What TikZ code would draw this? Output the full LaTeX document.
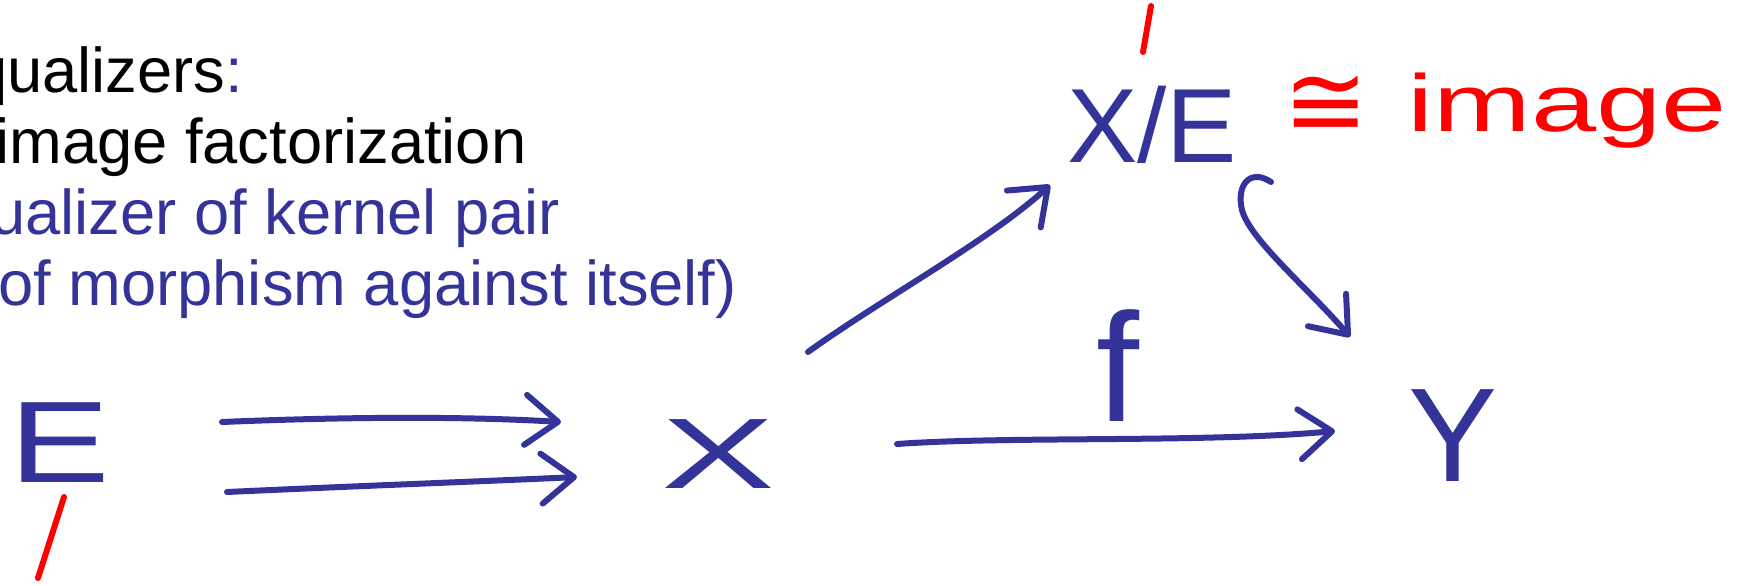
\documentclass[tikz,border=0pt]{standalone}
\usepackage{fontspec}
\setmainfont{Liberation Sans}
\newfontfamily\isofont{DejaVu Sans}
\usepackage{graphicx}
\usepackage{tikz}
\usetikzlibrary{arrows.meta, positioning}
\usepackage{xcolor}
\definecolor{inkblue}{RGB}{51,51,153}
\definecolor{inkred}{RGB}{255,0,0}

\tikzset{
    ink/.style={inkblue, line width=1.2mm, line cap=round, line join=round},
    inkarrow/.style={ink, -{Straight Barb[length=6.5mm, width=10mm, round]}},
    redtick/.style={inkred, line width=1.2mm, line cap=round},
    slide/.style={anchor=base west, inner sep=0pt, font=\fontsize{36}{43}\selectfont},
    hand/.style={inkblue, inner sep=0pt}
}

\begin{document}
\begin{tikzpicture}[x=0.2mm, y=-0.2mm]
        % Cadre
        \useasboundingbox (0,0) rectangle (1746,585);
        \clip (0,0) rectangle (1746,585);

        % --- Texte de la diapositive (coupé à gauche) ---
        \node[slide] (ln1) at (-28,92) {qualizers\textcolor{inkblue}{:}};
        \node[slide] (ln2) at (-5,163) {image factorization};
        \node[slide, inkblue] (ln3) at (-10,234) {ualizer of kernel pair};
        \node[slide, inkblue] (ln4) at (-23,305) {(of morphism against itself)};

        % --- Objets écrits à la main ---
        \node[hand, font=\fontsize{66}{66}\selectfont] (E) at (60,443) {\scalebox{1.3}[1]{E}};
        \node[hand, font=\fontsize{57}{57}\selectfont] (X) at (718,454) {\scalebox{1.7}[1]{X}};
        \node[hand, font=\fontsize{60}{60}\selectfont] (XE) at (1152,125) {X/E};
        \node[hand, font=\fontsize{76}{76}\selectfont] (Y) at (1453,436) {Y};

        % --- Annotation rouge ---
        \node[inkred, inner sep=0pt, font=\isofont\fontsize{58}{58}\selectfont] (iso) at (1326,106) {≅};
        \node[inkred, inner sep=0pt, anchor=base west, font=\fontsize{46}{46}\selectfont] (img) at (1407,131) {\scalebox{1.45}[1]{image}};
        \draw[redtick] ([shift={(4,54)}]E.center) -- ++(-26,81);
        \draw[redtick] ([shift={(-1,-119)}]XE.center) -- ++(-8,46);

        % --- Paire parallèle E => X ---
        \draw[inkarrow] ([shift={(162,-21)}]E.center) .. controls +(120,-5) and +(-100,-6) .. ([shift={(-157,-32)}]X.center);
        \draw[inkarrow] ([shift={(167,49)}]E.center) .. controls +(130,-6) and +(-110,5) .. ([shift={(-141,23)}]X.center);

        % --- Factorisation par X/E ---
        \draw[inkarrow] ([shift={(90,-102)}]X.center) .. controls +(72,-52) and +(-60,55) .. ([shift={(-102,60)}]XE.center);
        \draw[inkarrow] ([shift={(119,57)}]XE.center) .. controls +(-21,-14) and +(-6,-25) .. ([shift={(90,85)}]XE.center)
            .. controls +(8,30) and +(-40,-47) .. ([shift={(-103,-99)}]Y.center);

        % --- Morphisme f ---
        \draw[inkarrow] ([shift={(179,-10)}]X.center) .. controls +(110,-8) and +(-130,12) .. ([shift={(-118,-5)}]Y.center)
            node[hand, pos=0.52, above=2.8mm, font=\fontsize{88}{88}\selectfont] (f) {f};
    \end{tikzpicture}
\end{document}
